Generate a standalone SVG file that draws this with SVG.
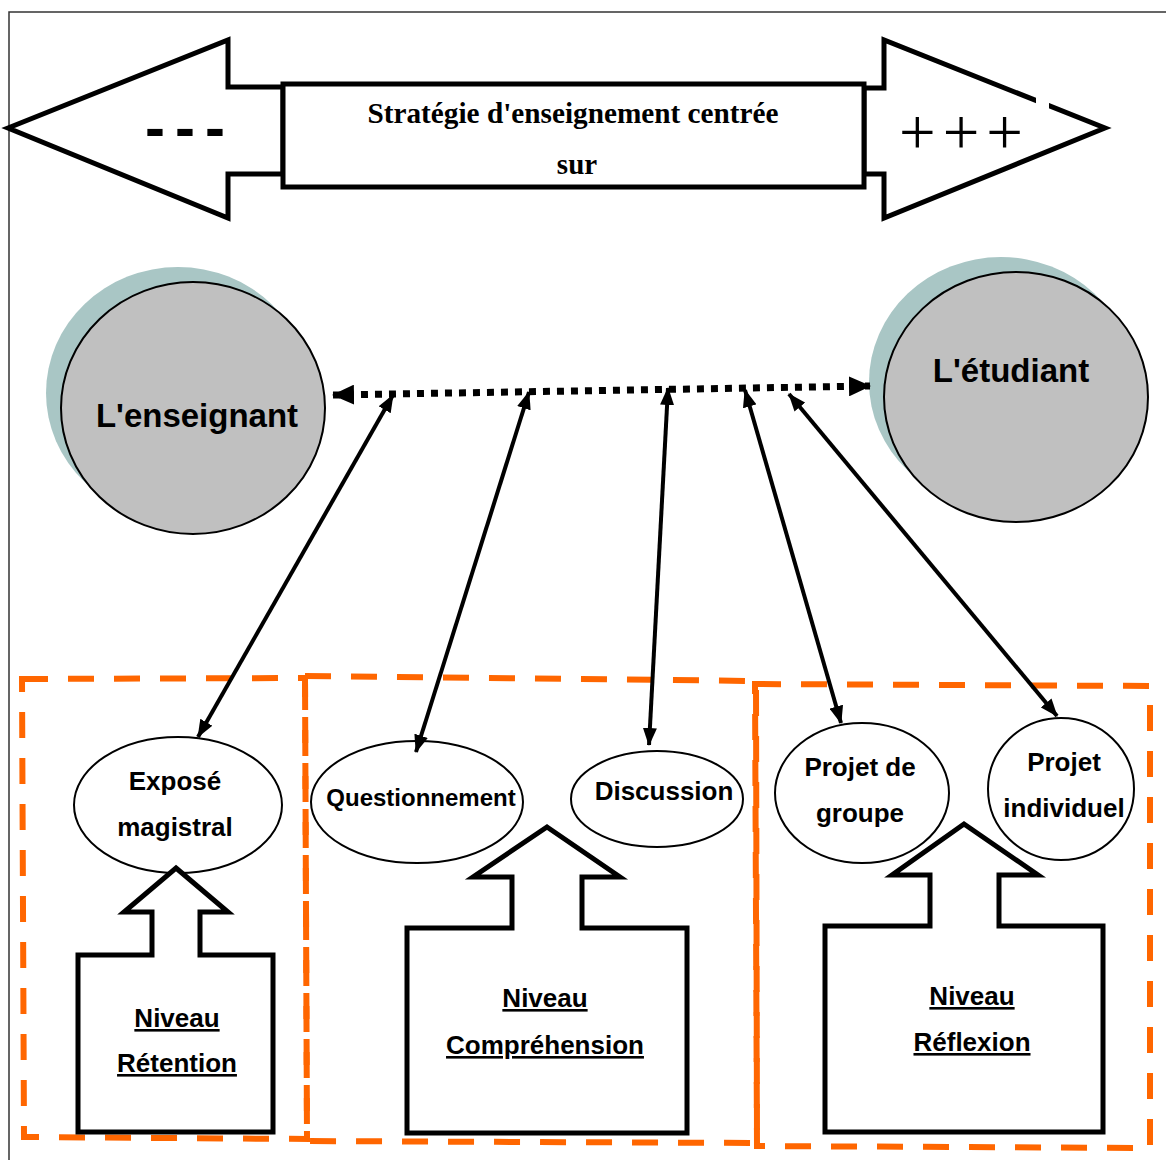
<svg xmlns="http://www.w3.org/2000/svg" width="1166" height="1160" viewBox="0 0 1166 1160">
  <defs>
    <style>
      .frame { fill: none; stroke: #333; stroke-width: 1.5; }
      .big { fill: #fff; stroke: #000; stroke-width: 5; stroke-linejoin: miter; }
      .title { font-family: "Liberation Serif", "Times New Roman", serif; font-weight: bold; font-size: 29px; fill: #000; }
      .sans { font-family: "Liberation Sans", Arial, sans-serif; font-weight: bold; fill: #000; }
      .actor { fill: #c0c0c0; stroke: #000; stroke-width: 2; }
      .shadow { fill: #a9c6c5; stroke: none; }
      .method { fill: #fff; stroke: #000; stroke-width: 2; }
      .zone { fill: none; stroke: #ff6600; stroke-width: 6; stroke-dasharray: 26 20; }
      .link { fill: none; stroke: #000; stroke-width: 4; marker-start: url(#head); marker-end: url(#head); }
      .dots { fill: none; stroke: #000; stroke-width: 7; stroke-dasharray: 7 7; marker-start: url(#bighead); marker-end: url(#bighead); }
      .lbl { font-size: 26px; }
      .lvl { font-size: 26px; text-decoration: underline; }
    </style>
    <marker id="head" viewBox="0 0 18 14" refX="17" refY="7" markerWidth="18" markerHeight="14" markerUnits="userSpaceOnUse" orient="auto-start-reverse">
      <path d="M0,0 L18,7 L0,14 Z" fill="#000"/>
    </marker>
    <marker id="bighead" viewBox="0 0 22 20" refX="21" refY="10" markerWidth="22" markerHeight="20" markerUnits="userSpaceOnUse" orient="auto-start-reverse">
      <path d="M0,0 L22,10 L0,20 Z" fill="#000"/>
    </marker>
  </defs>

  <rect width="1166" height="1160" fill="#fff"/>
  <path class="frame" d="M9,1160 L9,12 L1166,12"/>

  <!-- strategy banner: less <- title -> more -->
  <g id="banner">
    <path class="big" d="M8,128 L228,40 L228,87 L283,87 L283,174 L228,174 L228,218 Z"/>
    <path class="big" d="M1105,128 L884,218 L884,174 L864,174 L864,88 L884,88 L884,40 Z"/>
    <rect x="1036" y="91" width="13" height="20" fill="#fff"/>
    <rect class="big" x="283" y="84" width="581" height="103"/>
    <text class="title" x="573" y="123" text-anchor="middle" textLength="411" lengthAdjust="spacingAndGlyphs">Stratégie d'enseignement centrée</text>
    <text class="title" x="577" y="174" text-anchor="middle">sur</text>
    <text class="sans" x="185" y="148" font-size="60" text-anchor="middle" textLength="80" lengthAdjust="spacing">- - -</text>
    <text x="961" y="154" font-family="Liberation Serif, 'Times New Roman', serif" font-size="65" text-anchor="middle" textLength="124" lengthAdjust="spacing">+ + +</text>
  </g>

  <!-- actors -->
  <g id="enseignant">
    <ellipse class="shadow" cx="178" cy="393" rx="132" ry="126"/>
    <ellipse class="actor" cx="193" cy="408" rx="132" ry="126"/>
    <text class="sans" x="197" y="427" font-size="33" text-anchor="middle">L'enseignant</text>
  </g>
  <g id="etudiant">
    <ellipse class="shadow" cx="1001" cy="382" rx="132" ry="125"/>
    <ellipse class="actor" cx="1016" cy="397" rx="132" ry="125"/>
    <text class="sans" x="1011" y="382" font-size="33" text-anchor="middle">L'étudiant</text>
  </g>

  <!-- level zones -->
  <g id="zones">
    <path class="zone" d="M22,679 L305,678 L307,1139 L24,1137 Z"/>
    <path class="zone" d="M305,676 L756,681 L757,1143 L307,1141 Z"/>
    <path class="zone" d="M755,684 L1150,686 L1150,1148 L757,1146 Z"/>
  </g>

  <!-- teaching methods -->
  <g id="expose">
    <ellipse class="method" cx="178" cy="805" rx="104" ry="68"/>
    <text class="sans lbl" x="175" y="790" text-anchor="middle">Exposé</text>
    <text class="sans lbl" x="175" y="836" text-anchor="middle">magistral</text>
  </g>
  <g id="questionnement">
    <ellipse class="method" cx="417" cy="802" rx="106" ry="61"/>
    <text class="sans" x="421" y="806" font-size="24" text-anchor="middle">Questionnement</text>
  </g>
  <g id="discussion">
    <ellipse class="method" cx="657" cy="799" rx="86" ry="48"/>
    <text class="sans" x="664" y="800" font-size="26" text-anchor="middle">Discussion</text>
  </g>
  <g id="projet-groupe">
    <ellipse class="method" cx="862" cy="793" rx="87" ry="70"/>
    <text class="sans lbl" x="860" y="776" text-anchor="middle">Projet de</text>
    <text class="sans lbl" x="860" y="822" text-anchor="middle">groupe</text>
  </g>
  <g id="projet-individuel">
    <ellipse class="method" cx="1061" cy="789" rx="73" ry="71"/>
    <text class="sans lbl" x="1064" y="771" text-anchor="middle">Projet</text>
    <text class="sans lbl" x="1064" y="817" text-anchor="middle">individuel</text>
  </g>

  <!-- cognitive levels -->
  <g id="retention">
    <path class="big" d="M176,868 L228,912 L200,912 L200,955 L273,955 L273,1132 L78,1132 L78,955 L152,955 L152,912 L124,912 Z"/>
    <text class="sans lvl" x="177" y="1027" text-anchor="middle">Niveau</text>
    <text class="sans lvl" x="177" y="1072" text-anchor="middle">Rétention</text>
  </g>
  <g id="comprehension">
    <path class="big" d="M547,827 L620,877 L582,877 L582,928 L687,928 L687,1133 L407,1133 L407,928 L512,928 L512,877 L473,877 Z"/>
    <text class="sans lvl" x="545" y="1007" text-anchor="middle">Niveau</text>
    <text class="sans lvl" x="545" y="1054" text-anchor="middle">Compréhension</text>
  </g>
  <g id="reflexion">
    <path class="big" d="M964,824 L1038,875 L999,875 L999,926 L1103,926 L1103,1132 L825,1132 L825,926 L930,926 L930,875 L892,875 Z"/>
    <text class="sans lvl" x="972" y="1005" text-anchor="middle">Niveau</text>
    <text class="sans lvl" x="972" y="1051" text-anchor="middle">Réflexion</text>
  </g>

  <!-- connectors -->
  <g id="connectors">
    <line class="dots" x1="333" y1="395" x2="870" y2="386"/>
    <line class="link" x1="393" y1="395" x2="198" y2="737"/>
    <line class="link" x1="529" y1="392" x2="416" y2="752"/>
    <line class="link" x1="668" y1="388" x2="649" y2="745"/>
    <line class="link" x1="745" y1="390" x2="841" y2="723"/>
    <line class="link" x1="789" y1="394" x2="1057" y2="716"/>
  </g>
</svg>
